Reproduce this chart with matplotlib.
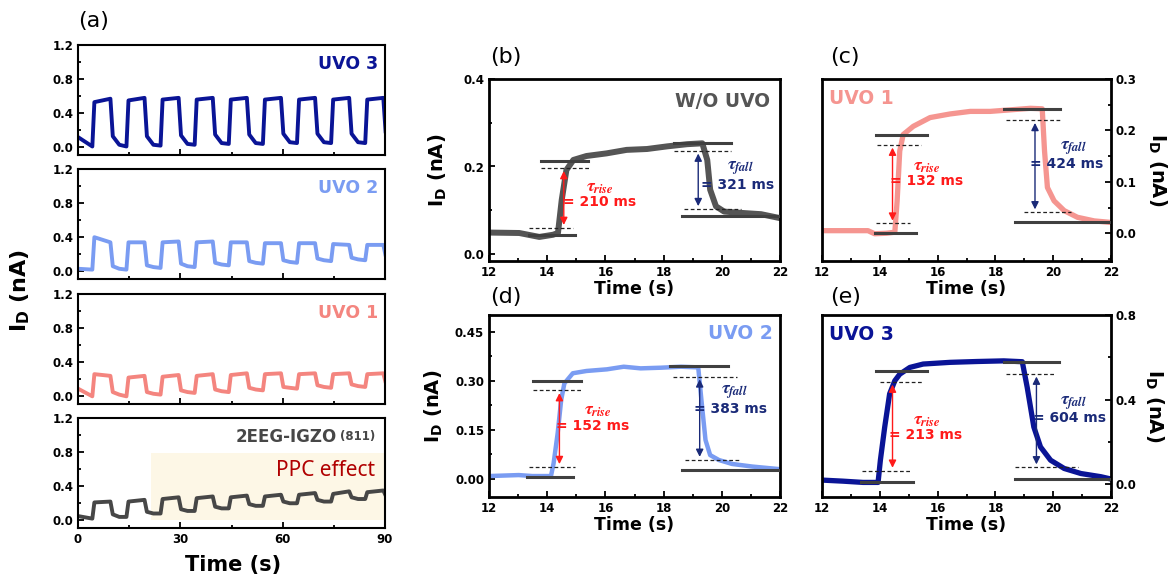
import matplotlib
matplotlib.use("Agg")
import matplotlib.pyplot as plt
from matplotlib.ticker import MultipleLocator, FormatStrFormatter

plt.rcParams['font.family'] = 'DejaVu Sans'
plt.rcParams['font.weight'] = 'bold'
plt.rcParams['axes.labelweight'] = 'bold'
plt.rcParams['mathtext.fontset'] = 'dejavusans'

# ---------------- (a) 90 s pulse trains ----------------
t_on = [4.2, 14.2, 24.2, 34.2, 44.2, 54.2, 64.2, 74.2, 84.2]
t_off = [9.5, 19.5, 29.5, 39.5, 49.5, 59.5, 69.5, 79.5, 89.5]

# per pulse: level before the rise, after the rise, before the fall,
# right after the fast drop, and once the decay has settled
u3_start = 0.12
u3_low = [0.01, 0.01, 0.02, 0.03, 0.04, 0.04, 0.05, 0.05, 0.05]
u3_peak = [0.53, 0.55, 0.56, 0.56, 0.56, 0.56, 0.56, 0.56, 0.56]
u3_high = [0.57, 0.58, 0.58, 0.58, 0.58, 0.58, 0.58, 0.58, 0.58]
u3_knee = [0.13, 0.13, 0.14, 0.15, 0.15, 0.16, 0.16, 0.16, 0.17]
u3_settle = [0.03, 0.03, 0.04, 0.05, 0.05, 0.06, 0.06, 0.06, 0.07]

u2_start = 0.03
u2_low = [0.02, 0.02, 0.04, 0.05, 0.07, 0.09, 0.10, 0.12, 0.13]
u2_peak = [0.40, 0.34, 0.34, 0.34, 0.34, 0.33, 0.33, 0.32, 0.31]
u2_high = [0.34, 0.34, 0.35, 0.35, 0.34, 0.33, 0.33, 0.31, 0.31]
u2_knee = [0.06, 0.07, 0.09, 0.10, 0.12, 0.13, 0.15, 0.16, 0.18]
u2_settle = [0.03, 0.05, 0.06, 0.08, 0.10, 0.11, 0.13, 0.14, 0.15]

u1_start = 0.09
u1_low = [0.00, 0.00, 0.02, 0.04, 0.05, 0.07, 0.09, 0.10, 0.11]
u1_peak = [0.26, 0.22, 0.23, 0.24, 0.25, 0.26, 0.26, 0.26, 0.26]
u1_high = [0.24, 0.24, 0.25, 0.26, 0.27, 0.27, 0.27, 0.27, 0.27]
u1_knee = [0.05, 0.05, 0.07, 0.08, 0.10, 0.11, 0.13, 0.14, 0.16]
u1_settle = [0.02, 0.03, 0.05, 0.06, 0.08, 0.10, 0.11, 0.12, 0.13]

p_start = 0.05
p_low = [0.02, 0.04, 0.08, 0.11, 0.14, 0.17, 0.20, 0.22, 0.25]
p_peak = [0.21, 0.22, 0.25, 0.26, 0.27, 0.28, 0.30, 0.31, 0.33]
p_high = [0.22, 0.24, 0.27, 0.28, 0.29, 0.30, 0.32, 0.34, 0.35]
p_knee = [0.07, 0.10, 0.13, 0.16, 0.19, 0.22, 0.24, 0.27, 0.29]
p_settle = [0.04, 0.08, 0.11, 0.14, 0.17, 0.20, 0.22, 0.25, 0.27]

# ---------------- (b)-(e) single pulse, 12-22 s ----------------
b_t = [12.0, 13.04, 13.73, 14.2, 14.37, 14.5, 14.66, 14.9, 15.35, 16.04, 16.73, 17.43,
       18.12, 18.81, 19.33, 19.5, 19.6, 19.8, 20.08, 20.66, 21.35, 22.0]
b_i = [0.049, 0.048, 0.039, 0.044, 0.048, 0.124, 0.192, 0.215, 0.224, 0.230, 0.238, 0.240,
       0.246, 0.251, 0.253, 0.215, 0.147, 0.109, 0.097, 0.094, 0.091, 0.082]

c_t = [12.0, 13.18, 13.59, 13.82, 14.23, 14.52, 14.6, 14.69, 14.81, 15.16, 15.74, 16.43,
       17.13, 17.82, 18.52, 19.21, 19.62, 19.7, 19.8, 20.03, 20.38, 20.84, 21.42, 22.0]
c_i = [0.005, 0.005, 0.005, -0.001, 0.0, 0.002, 0.063, 0.160, 0.192, 0.208, 0.225, 0.232,
       0.237, 0.237, 0.240, 0.243, 0.242, 0.160, 0.089, 0.063, 0.044, 0.031, 0.024, 0.021]

d_t = [12.0, 13.02, 13.49, 14.13, 14.22, 14.36, 14.48, 14.59, 14.88, 15.35, 16.05, 16.63,
       17.21, 17.91, 18.6, 19.19, 19.3, 19.44, 19.6, 19.9, 20.35, 21.05, 22.0]
d_i = [0.009, 0.012, 0.009, 0.009, 0.048, 0.140, 0.241, 0.292, 0.323, 0.330, 0.335, 0.343,
       0.338, 0.340, 0.343, 0.341, 0.241, 0.119, 0.073, 0.058, 0.046, 0.038, 0.030]

e_t = [12.0, 12.72, 13.42, 13.94, 14.02, 14.17, 14.34, 14.52, 14.69, 15.04, 15.5, 16.43,
       17.36, 18.29, 18.93, 19.1, 19.33, 19.56, 19.91, 20.38, 20.96, 21.65, 22.0]
e_i = [0.019, 0.014, 0.008, 0.008, 0.113, 0.270, 0.427, 0.489, 0.520, 0.552, 0.568, 0.576,
       0.580, 0.583, 0.579, 0.458, 0.270, 0.176, 0.113, 0.074, 0.050, 0.035, 0.024]

# rise / fall reference levels (solid = start/end, dashed = 10 % / 90 %)
rise_lo = [0.044, 0.000, 0.007, 0.011]
rise_hi = [0.213, 0.192, 0.300, 0.536]
rise_10 = [0.060, 0.019, 0.037, 0.064]
rise_90 = [0.196, 0.172, 0.271, 0.484]
fall_hi = [0.253, 0.242, 0.345, 0.580]
fall_lo = [0.086, 0.021, 0.028, 0.022]
fall_90 = [0.236, 0.220, 0.313, 0.522]
fall_10 = [0.103, 0.041, 0.059, 0.080]
tau_rise = [210, 132, 152, 213]
tau_fall = [321, 424, 383, 604]

# time extents of the level marks and arrow positions
rise_lo_x = [(13.39, 14.95), (13.82, 15.25), (13.31, 14.90), (13.36, 15.16)]
rise_hi_x = [(13.80, 15.40), (13.86, 15.62), (13.52, 15.17), (13.88, 15.62)]
rise_10_x = [(13.39, 14.89), (13.86, 15.04), (13.37, 14.94), (13.39, 15.10)]
rise_90_x = [(13.80, 15.46), (13.90, 15.44), (13.52, 15.23), (13.99, 15.45)]
fall_hi_x = [(18.35, 20.31), (18.29, 20.24), (18.23, 20.23), (18.29, 20.20)]
fall_90_x = [(18.35, 20.31), (18.38, 20.32), (18.31, 20.53), (18.38, 20.03)]
fall_lo_x = [(18.64, 21.93), (18.69, 22.00), (18.63, 21.98), (18.69, 22.00)]
fall_10_x = [(18.70, 20.66), (18.98, 20.60), (18.73, 20.60), (18.69, 20.86)]
rise_arrow_t = [14.57, 14.44, 14.42, 14.44]
fall_arrow_t = [19.19, 19.37, 19.24, 19.42]

NAVY = '#0a1496'
LBLUE = '#7a9cf2'
SALMON = '#f4857f'
GRAY = '#474747'
RED = '#ff1a1a'
DNAVY = '#1a2a78'

W, H = 1175, 584


def box(l, t, r, b):
    return [l / W, 1 - b / H, (r - l) / W, (b - t) / H]


def pulse_trace(start, low, peak, high, knee, settle):
    t, i = [0.0], [start]
    for k in range(len(t_on)):
        t += [t_on[k], t_on[k] + 0.6, t_off[k], t_off[k] + 0.7, t_off[k] + 2.6]
        i += [low[k], peak[k], high[k], knee[k], settle[k]]
    return t, i


def style(ax, lw=1.6, size=8.5):
    for s in ax.spines.values():
        s.set_linewidth(lw)
    ax.tick_params(which='both', direction='in', width=1.3, labelsize=size)
    ax.tick_params(which='major', length=4.5)
    ax.tick_params(which='minor', length=2.5)


fig = plt.figure(figsize=(11.75, 5.84), dpi=100)

# ---------- (a) ----------
left_boxes = [box(78, 45, 385, 155), box(78, 169, 385, 279),
              box(78, 294, 385, 404), box(78, 418, 385, 528)]
traces = [
    (pulse_trace(u3_start, u3_low, u3_peak, u3_high, u3_knee, u3_settle), NAVY, 'UVO 3'),
    (pulse_trace(u2_start, u2_low, u2_peak, u2_high, u2_knee, u2_settle), LBLUE, 'UVO 2'),
    (pulse_trace(u1_start, u1_low, u1_peak, u1_high, u1_knee, u1_settle), SALMON, 'UVO 1'),
    (pulse_trace(p_start, p_low, p_peak, p_high, p_knee, p_settle), GRAY, None),
]
for n, (rect, ((tt, ii), col, name)) in enumerate(zip(left_boxes, traces)):
    ax = fig.add_axes(rect)
    ax.plot(tt, ii, color=col, lw=2.8, solid_joinstyle='round', solid_capstyle='round')
    ax.set_xlim(0, 90)
    ax.set_ylim(-0.09, 1.2)
    ax.xaxis.set_major_locator(MultipleLocator(30))
    ax.xaxis.set_minor_locator(MultipleLocator(15))
    ax.yaxis.set_major_locator(MultipleLocator(0.4))
    ax.yaxis.set_minor_locator(MultipleLocator(0.2))
    ax.yaxis.set_major_formatter(FormatStrFormatter('%.1f'))
    style(ax, lw=1.5, size=8.5)
    if n < 3:
        ax.tick_params(labelbottom=False)
        ax.text(88, 0.98, name, color=col, fontsize=12.5, ha='right', va='center')
    else:
        ax.axvspan(21.5, 90, ymin=0.09 / 1.29, ymax=0.88 / 1.29, color='#fdf7e6', lw=0, zorder=0)
        ax.text(87.1, 0.98, '(811)', color=GRAY, fontsize=8.5, ha='right', va='center')
        ax.text(75.8, 0.98, '2EEG-IGZO', color=GRAY, fontsize=12, ha='right', va='center')
        ax.text(87.1, 0.59, 'PPC effect', color='#b00000', fontsize=15, fontweight='normal',
                family='Noto Sans', ha='right', va='center')

fig.text(78 / W, 1 - 21 / H, '(a)', fontsize=16, fontweight='normal', ha='left', va='center')
fig.text(20 / W, 1 - 290 / H, r'$\mathbf{I_D}$ (nA)', fontsize=16, rotation=90,
         ha='center', va='center')
fig.text(233 / W, 1 - 565 / H, 'Time (s)', fontsize=15, ha='center', va='center')

# ---------- (b)-(e) ----------
panels = [
    dict(rect=box(489, 79, 780, 261), t=b_t, i=b_i, col='#555555', lw=4.3,
         ylim=(-0.016, 0.4), major=0.2, minor=0.1, fmt='%.1f', side='left',
         name='W/O UVO', name_xy=(21.67, 0.348), ha='right', ncol='#555555',
         tr=(15.81, 0.154), vr=(15.80, 0.120), tf=(20.66, 0.196), vf=(20.55, 0.158),
         letter='(b)', lxy=(490, 57), ylab_x=-0.175),
    dict(rect=box(822, 79, 1111, 261), t=c_t, i=c_i, col='#f59590', lw=3.8,
         ylim=(-0.054, 0.3), major=0.1, minor=0.05, fmt='%.1f', side='right',
         name='UVO 1', name_xy=(12.25, 0.263), ha='left', ncol='#f59590',
         tr=(15.62, 0.131), vr=(15.62, 0.102), tf=(20.70, 0.166), vf=(20.45, 0.134),
         letter='(c)', lxy=(830, 57), ylab_x=1.16),
    dict(rect=box(489, 315, 780, 497), t=d_t, i=d_i, col=LBLUE, lw=3.2,
         ylim=(-0.055, 0.501), major=0.15, minor=0.075, fmt='%.2f', side='left',
         name='UVO 2', name_xy=(21.74, 0.445), ha='right', ncol=LBLUE,
         tr=(15.73, 0.211), vr=(15.57, 0.163), tf=(20.43, 0.267), vf=(20.31, 0.214),
         letter='(d)', lxy=(490, 297), ylab_x=-0.19),
    dict(rect=box(822, 315, 1111, 497), t=e_t, i=e_i, col=NAVY, lw=3.8,
         ylim=(-0.061, 0.8), major=0.4, minor=0.2, fmt='%.1f', side='right',
         name='UVO 3', name_xy=(12.23, 0.709), ha='left', ncol=NAVY,
         tr=(15.62, 0.301), vr=(15.59, 0.234), tf=(20.70, 0.383), vf=(20.56, 0.312),
         letter='(e)', lxy=(830, 297), ylab_x=1.15),
]

for k, p in enumerate(panels):
    ax = fig.add_axes(p['rect'])
    ax.plot(p['t'], p['i'], color=p['col'], lw=p['lw'], solid_joinstyle='round',
            solid_capstyle='round', zorder=2)
    ax.set_xlim(12, 22)
    ax.set_ylim(*p['ylim'])
    ax.xaxis.set_major_locator(MultipleLocator(2))
    ax.xaxis.set_minor_locator(MultipleLocator(1))
    ax.yaxis.set_major_locator(MultipleLocator(p['major']))
    ax.yaxis.set_minor_locator(MultipleLocator(p['minor']))
    ax.yaxis.set_major_formatter(FormatStrFormatter(p['fmt']))
    style(ax, lw=2.0, size=8.5)
    if p['side'] == 'right':
        ax.yaxis.tick_right()
        ax.yaxis.set_label_position('right')
        ax.set_ylabel(r'$\mathbf{I_D}$ (nA)', fontsize=14, rotation=270, va='center')
    else:
        ax.set_ylabel(r'$\mathbf{I_D}$ (nA)', fontsize=14, va='center')
    ax.yaxis.set_label_coords(p['ylab_x'], 0.5)
    ax.set_xlabel('Time (s)', fontsize=12.5, labelpad=1)

    # level bars
    for lvl, (x0, x1) in [(rise_lo[k], rise_lo_x[k]), (rise_hi[k], rise_hi_x[k]),
                          (fall_hi[k], fall_hi_x[k]), (fall_lo[k], fall_lo_x[k])]:
        ax.plot([x0, x1], [lvl, lvl], color='#404040', lw=2.2, zorder=3)
    for lvl, (x0, x1) in [(rise_10[k], rise_10_x[k]), (rise_90[k], rise_90_x[k]),
                          (fall_90[k], fall_90_x[k]), (fall_10[k], fall_10_x[k])]:
        ax.plot([x0, x1], [lvl, lvl], color='#222222', lw=0.9, ls=(0, (3, 2)), zorder=3)

    ax.annotate('', xy=(rise_arrow_t[k], rise_10[k]), xytext=(rise_arrow_t[k], rise_90[k]),
                arrowprops=dict(arrowstyle='<|-|>', color=RED, lw=1.0, mutation_scale=11),
                zorder=4)
    ax.annotate('', xy=(fall_arrow_t[k], fall_10[k]), xytext=(fall_arrow_t[k], fall_90[k]),
                arrowprops=dict(arrowstyle='<|-|>', color=DNAVY, lw=1.0, mutation_scale=11),
                zorder=4)

    ax.text(*p['tr'], r'$\tau_{rise}$', color=RED, fontsize=13, math_fontfamily='stix',
            ha='center', va='center')
    ax.text(*p['vr'], f'= {tau_rise[k]} ms', color=RED, fontsize=10, ha='center', va='center')
    ax.text(*p['tf'], r'$\tau_{fall}$', color=DNAVY, fontsize=13, math_fontfamily='stix',
            ha='center', va='center')
    ax.text(*p['vf'], f'= {tau_fall[k]} ms', color=DNAVY, fontsize=10, ha='center', va='center')

    ax.text(*p['name_xy'], p['name'], color=p['ncol'], fontsize=13.5, ha=p['ha'], va='center')
    fig.text(p['lxy'][0] / W, 1 - p['lxy'][1] / H, p['letter'], fontsize=16,
             fontweight='normal', ha='left', va='center')

fig.savefig('out.png', dpi=100)
